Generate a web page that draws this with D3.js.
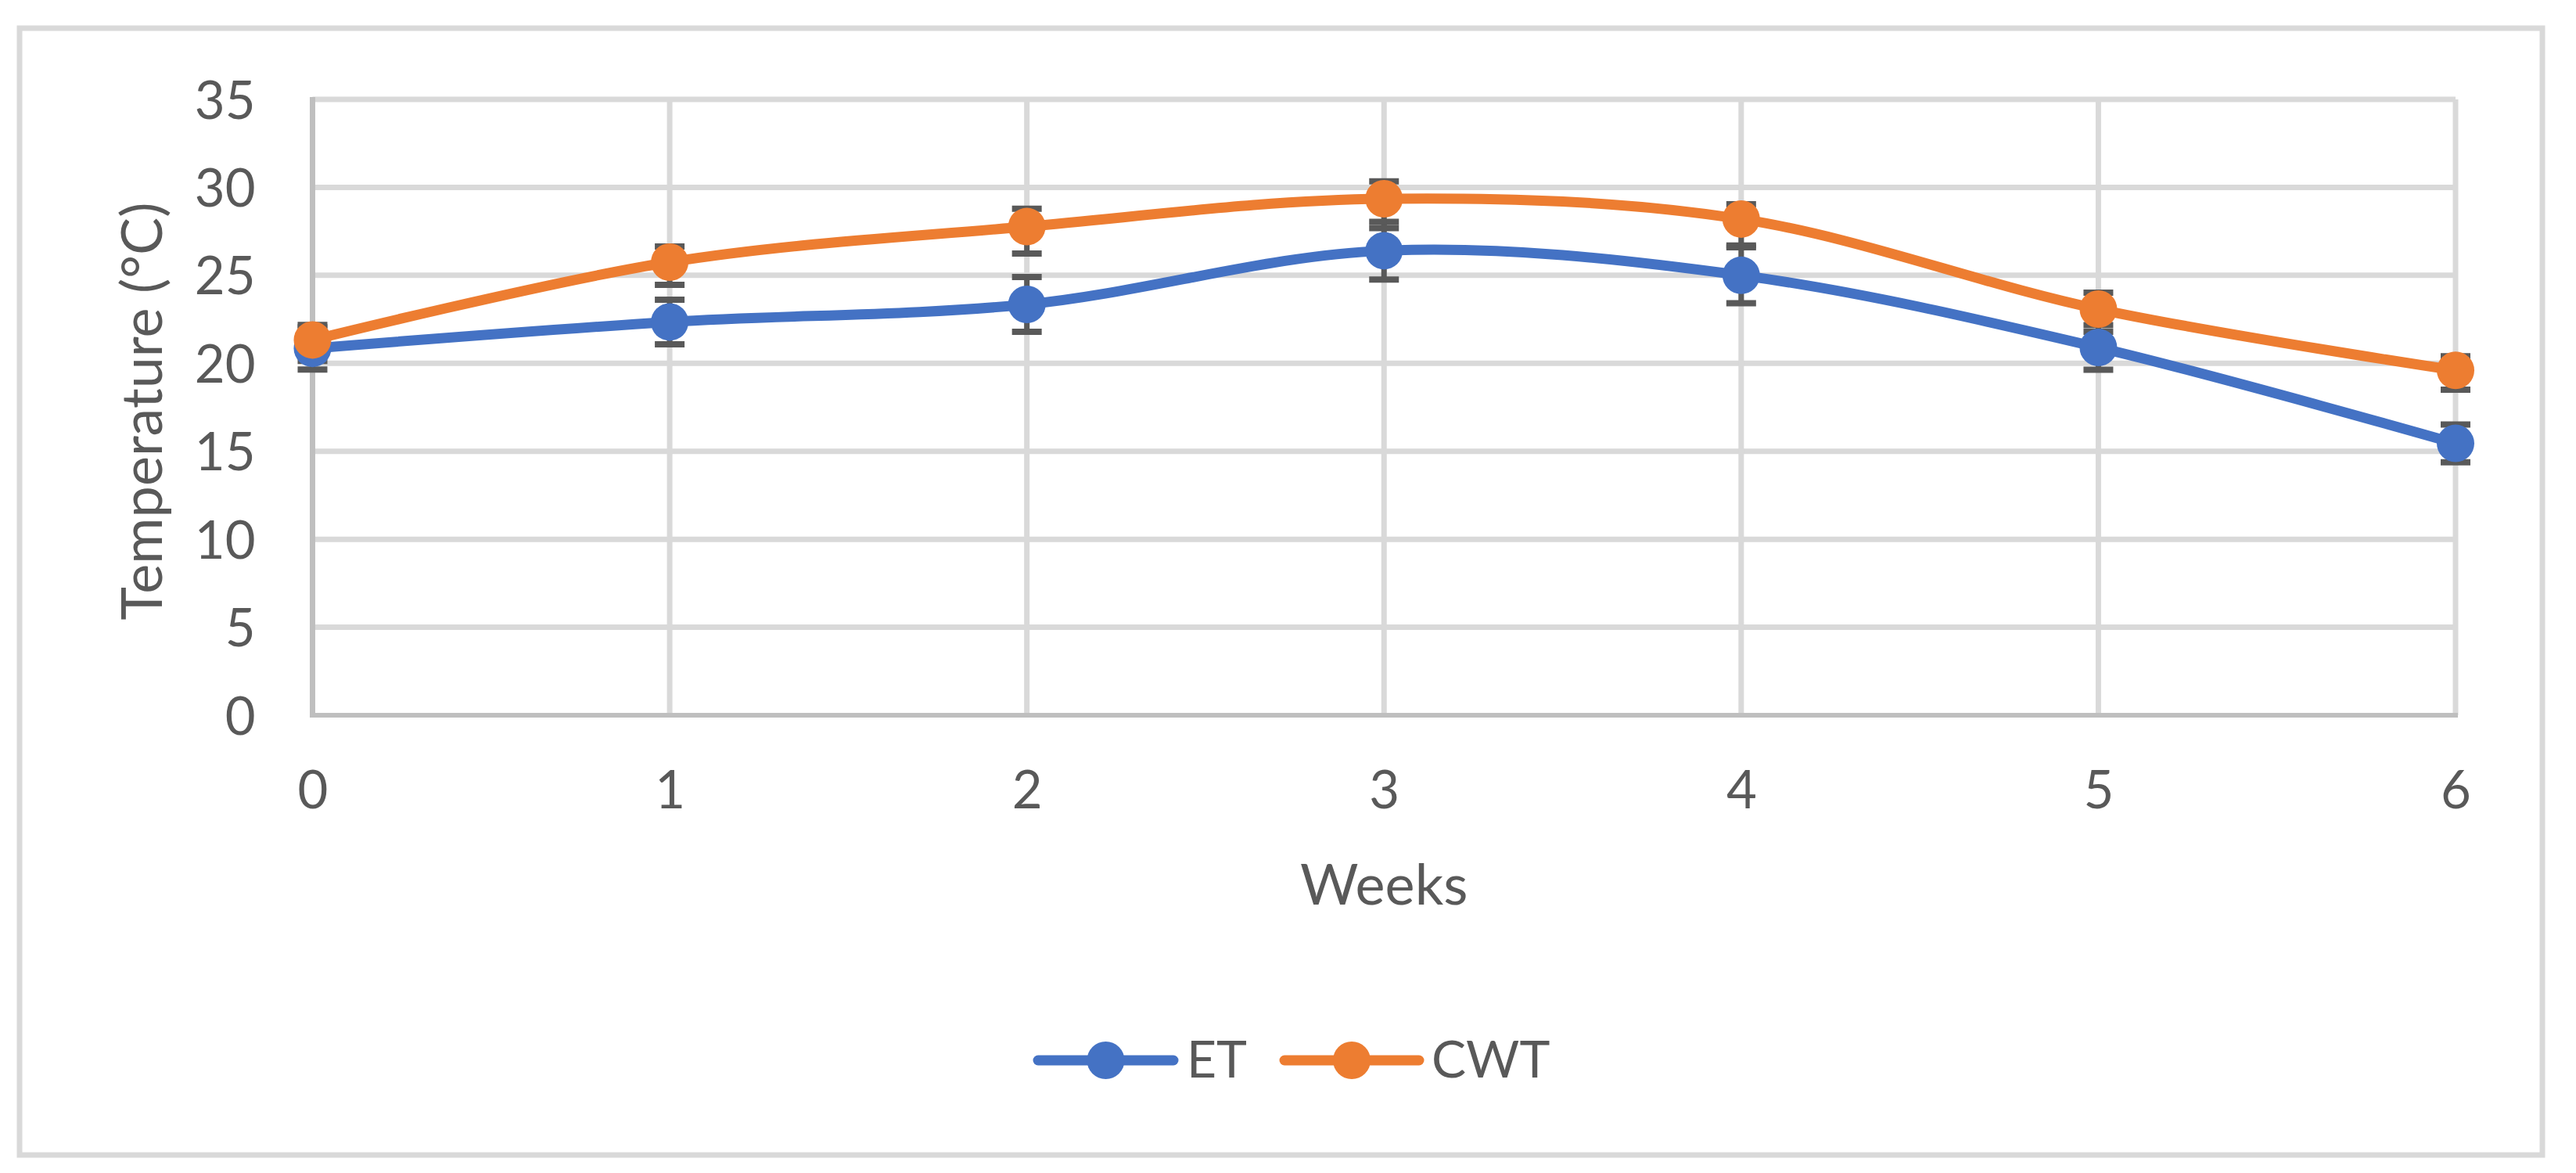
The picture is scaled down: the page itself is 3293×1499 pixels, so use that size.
<!DOCTYPE html>
<html>
<head>
<meta charset="utf-8">
<script src="https://cdn.jsdelivr.net/npm/d3@7"></script>
<style>
  html, body { margin: 0; padding: 0; background: #ffffff; }
  svg { display: block; }
</style>
</head>
<body>
<svg id="chart" width="3293" height="1499"></svg>
<script>
// ---- data ----
const weeks = [0, 1, 2, 3, 4, 5, 6];
const seriesNames = ["ET", "CWT"];
const etValues = [20.85, 22.35, 23.35, 26.4, 25.0, 20.9, 15.45];
const etErr = [1.2, 1.27, 1.56, 1.64, 1.59, 1.27, 1.07];
const cwtValues = [21.33, 25.75, 27.77, 29.35, 28.2, 23.08, 19.6];
const cwtErrUp = [0.85, 0.89, 1.02, 0.99, 0.84, 0.93, 0.8];
const cwtErrDown = [1.2, 1.29, 1.53, 1.67, 1.5, 1.29, 1.1];
const yTicks = [0, 5, 10, 15, 20, 25, 30, 35];
const xTicks = [0, 1, 2, 3, 4, 5, 6];
const yTitle = "Temperature (°C)";
const xTitle = "Weeks";

// ---- styles ----
const colors = { ET: "#4472c4", CWT: "#ed7d31" };
const textColor = "#595959";
const gridColor = "#d9d9d9";
const axisColor = "#bfbfbf";
const errColor = "#595959";
const font = "Lato, 'Open Sans', sans-serif";

const svg = d3.select("#chart");

// outer border
svg.append("rect")
  .attr("x", 25).attr("y", 36)
  .attr("width", 3225).attr("height", 1440)
  .attr("fill", "#fff")
  .attr("stroke", gridColor).attr("stroke-width", 7);

const x = d3.scaleLinear().domain([0, 6]).range([399.5, 3139]);
const y = d3.scaleLinear().domain([0, 35]).range([914, 127]);

// gridlines
const grid = svg.append("g");
grid.selectAll("line.h").data(yTicks.filter(d => d > 0)).join("line")
  .attr("x1", x(0)).attr("x2", x(6))
  .attr("y1", d => y(d)).attr("y2", d => y(d))
  .attr("stroke", gridColor).attr("stroke-width", 7);
grid.selectAll("line.v").data(xTicks.filter(d => d > 0)).join("line")
  .attr("x1", d => x(d)).attr("x2", d => x(d))
  .attr("y1", y(0)).attr("y2", y(35))
  .attr("stroke", gridColor).attr("stroke-width", 7);

// axes lines
svg.append("line")
  .attr("x1", x(0)).attr("x2", x(0)).attr("y1", y(0) + 3).attr("y2", y(35) - 3)
  .attr("stroke", axisColor).attr("stroke-width", 7);
svg.append("line")
  .attr("x1", x(0) - 3).attr("x2", x(6) + 3).attr("y1", y(0)).attr("y2", y(0))
  .attr("stroke", axisColor).attr("stroke-width", 6);

// axis labels via d3 axes
const yAxis = svg.append("g")
  .attr("transform", `translate(${x(0)},0)`)
  .call(d3.axisLeft(y).tickValues(yTicks).tickSize(0).tickPadding(73).tickFormat(d3.format("d")));
yAxis.select(".domain").remove();
yAxis.selectAll("text")
  .attr("font-family", font).attr("font-size", 67).attr("fill", textColor).attr("dy", "0.36em");

const xAxis = svg.append("g")
  .attr("transform", `translate(0,${y(0)})`)
  .call(d3.axisBottom(x).tickValues(xTicks).tickSize(0).tickPadding(71).tickFormat(d3.format("d")));
xAxis.select(".domain").remove();
xAxis.selectAll("text")
  .attr("font-family", font).attr("font-size", 67).attr("fill", textColor);

// axis titles
svg.append("text")
  .attr("transform", `translate(207,${(y(0) + y(35)) / 2 + 5}) rotate(-90)`)
  .attr("text-anchor", "middle")
  .attr("font-family", font).attr("font-size", 72).attr("fill", textColor)
  .text(yTitle);
svg.append("text")
  .attr("x", (x(0) + x(6)) / 2).attr("y", 1156)
  .attr("text-anchor", "middle")
  .attr("font-family", font).attr("font-size", 72).attr("fill", textColor)
  .text(xTitle);

// series
const series = [
  { name: "ET", values: etValues, up: etErr, down: etErr },
  { name: "CWT", values: cwtValues, up: cwtErrUp, down: cwtErrDown }
];

// error bars
const eb = svg.append("g");
series.forEach(s => {
  const pts = weeks.map((w, i) => ({ w, v: s.values[i], up: s.up[i], down: s.down[i] }));
  const g = eb.append("g");
  g.selectAll("line.stem").data(pts).join("line")
    .attr("x1", d => x(d.w)).attr("x2", d => x(d.w))
    .attr("y1", d => y(d.v + d.up)).attr("y2", d => y(d.v - d.down))
    .attr("stroke", errColor).attr("stroke-width", 7);
  g.selectAll("line.capu").data(pts).join("line")
    .attr("x1", d => x(d.w) - 19).attr("x2", d => x(d.w) + 19)
    .attr("y1", d => y(d.v + d.up)).attr("y2", d => y(d.v + d.up))
    .attr("stroke", errColor).attr("stroke-width", 8);
  g.selectAll("line.capd").data(pts).join("line")
    .attr("x1", d => x(d.w) - 19).attr("x2", d => x(d.w) + 19)
    .attr("y1", d => y(d.v - d.down)).attr("y2", d => y(d.v - d.down))
    .attr("stroke", errColor).attr("stroke-width", 8);
});

// lines + markers
const line = d3.line()
  .x(d => x(d.w)).y(d => y(d.v))
  .curve(d3.curveCardinal.tension(0));
series.forEach(s => {
  const pts = weeks.map((w, i) => ({ w, v: s.values[i] }));
  svg.append("path").datum(pts)
    .attr("d", line)
    .attr("fill", "none")
    .attr("stroke", colors[s.name]).attr("stroke-width", 13)
    .attr("stroke-linecap", "round").attr("stroke-linejoin", "round");
  svg.append("g").selectAll("circle").data(pts).join("circle")
    .attr("cx", d => x(d.w)).attr("cy", d => y(d.v)).attr("r", 24)
    .attr("fill", colors[s.name]);
});

// legend
const legendItems = [
  { name: "ET", x1: 1327, x2: 1500, tx: 1517 },
  { name: "CWT", x1: 1642, x2: 1814, tx: 1830 }
];
const lg = svg.append("g");
legendItems.forEach(it => {
  lg.append("line")
    .attr("x1", it.x1).attr("x2", it.x2).attr("y1", 1355).attr("y2", 1355)
    .attr("stroke", colors[it.name]).attr("stroke-width", 13).attr("stroke-linecap", "round");
  lg.append("circle")
    .attr("cx", (it.x1 + it.x2) / 2).attr("cy", 1355).attr("r", 24)
    .attr("fill", colors[it.name]);
  lg.append("text")
    .attr("x", it.tx).attr("y", 1377)
    .attr("font-family", font).attr("font-size", 66).attr("fill", textColor)
    .text(it.name);
});
</script>
</body>
</html>
